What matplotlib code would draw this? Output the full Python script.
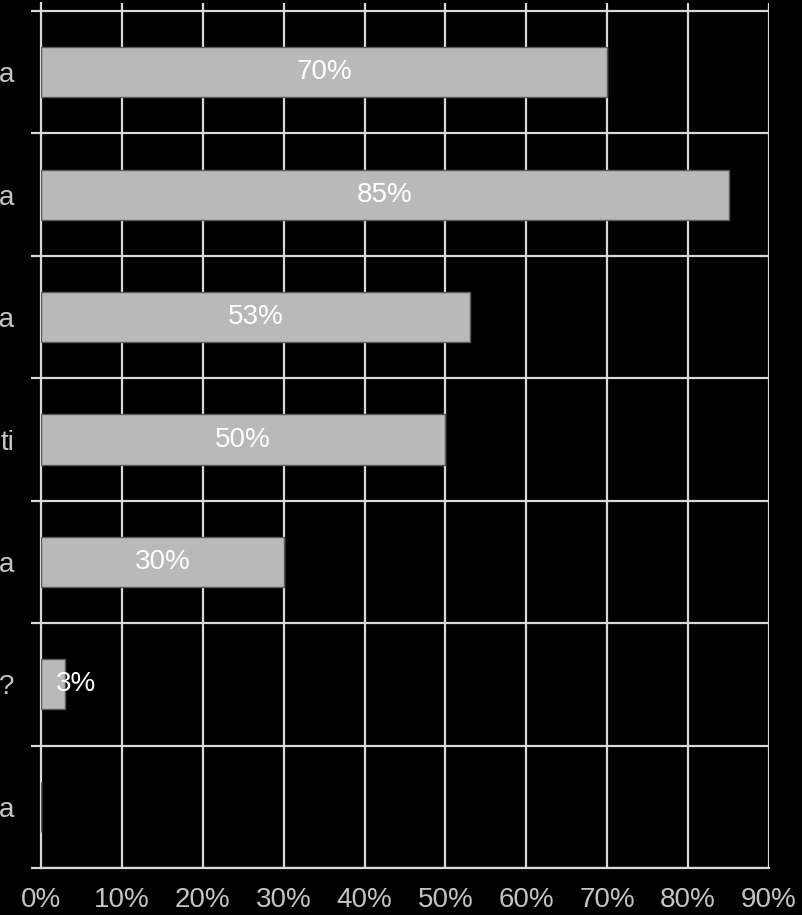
import matplotlib.pyplot as plt
import numpy as np

plt.rcParams['font.family'] = ['Liberation Sans', 'DejaVu Sans']

# category labels (cut off at the left edge in the original), top to bottom
categories = ["a", "a", "ta", "ti", "a", "?", "a"]
values = [70, 85, 53, 50, 30, 3, 0]
xticks = list(range(0, 100, 10))
xtick_labels = [f"{t}%" for t in xticks]

fig = plt.figure(figsize=(8.03, 9.15), dpi=100, facecolor="black")
ax = fig.add_axes([41 / 803, (915 - 868) / 915, (769 - 41) / 803, (868 - 3) / 915])
ax.set_facecolor("black")

ypos = np.arange(len(categories))
ax.barh(ypos, values, height=0.41, color="#b9b9b9", edgecolor="#5a5a5a", linewidth=1, zorder=3)

# value labels inside the bars
for y, v in zip(ypos, values):
    if v == 0:
        continue
    if v < 10:
        ax.text(v / 2 + 0.3, y, f"{v}%", ha="left", va="center", color="white", fontsize=20, zorder=4)
    else:
        ax.text(v / 2, y, f"{v}%", ha="center", va="center", color="white", fontsize=20, zorder=4)

# grid: vertical lines every 10%, horizontal lines at category boundaries
grid_color = "#d9d9d9"
for t in xticks[1:]:
    ax.axvline(t, color=grid_color, linewidth=1.6, zorder=1)
for b in np.arange(-0.5, len(categories), 1.0):
    ax.axhline(b, color=grid_color, linewidth=1.6, zorder=1)

ax.set_xlim(0, 90)
ax.set_ylim(6.5, -0.5 - 8 / 122.4)

ax.set_xticks(xticks)
ax.set_xticklabels(xtick_labels, fontsize=20, color="#c4c4c4")
ax.tick_params(axis="x", length=0, pad=14)

ax.set_yticks(ypos)
ax.set_yticklabels(categories, fontsize=20, color="#c4c4c4")
ax.tick_params(axis="y", which="major", length=0, pad=19)
ax.set_yticks(np.arange(-0.5, len(categories), 1.0), minor=True)
ax.tick_params(axis="y", which="minor", length=7, width=1.6, color=grid_color, direction="out")

for side in ["top", "right"]:
    ax.spines[side].set_visible(False)
ax.spines["left"].set_color(grid_color)
ax.spines["left"].set_linewidth(1.6)
ax.spines["bottom"].set_color(grid_color)
ax.spines["bottom"].set_linewidth(1.6)

fig.savefig("out.png", dpi=100, facecolor="black")
